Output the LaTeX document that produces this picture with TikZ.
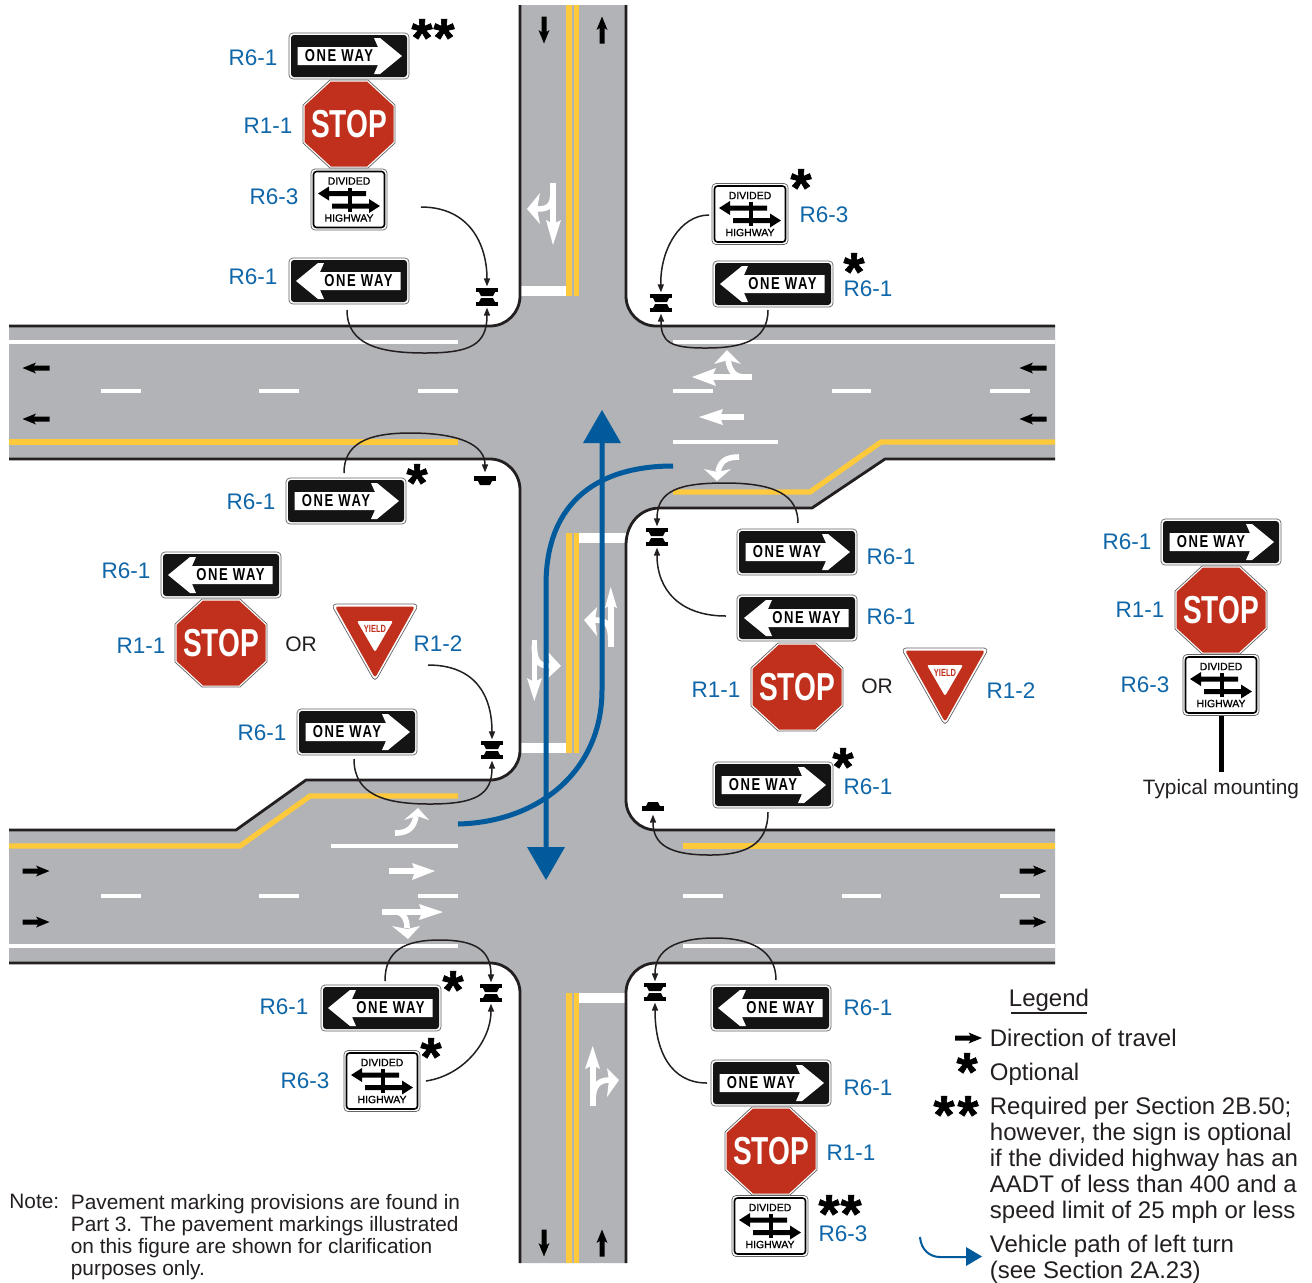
\documentclass[tikz,border=0pt]{standalone}
\usepackage{fontspec}
\setmainfont{Liberation Sans}
\newfontfamily\signfont[FakeStretch=0.76,LetterSpace=9]{Liberation Sans}
\newfontfamily\stopfont[FakeStretch=0.72]{Liberation Sans}
\newfontfamily\divfont[FakeBold=1]{Liberation Sans}
\newfontfamily\astfont[BoldFeatures={FakeBold=1.2}]{Liberation Sans}
\usetikzlibrary{arrows.meta}
\definecolor{roadgray}{HTML}{B1B3B6}
\definecolor{ylw}{HTML}{FFC93C}
\definecolor{edgeblack}{HTML}{231F20}
\definecolor{labelblue}{HTML}{0F66A8}
\definecolor{pathblue}{HTML}{005A9C}
\definecolor{signred}{HTML}{C1301C}
\newcommand\owbody[2]{%
  \draw[edgeblack!70,line width=.35pt,fill=white,rounded corners=2pt] (-60,-23) rectangle (60,23);
  \fill[black!92,rounded corners=1.5pt] (-58,-21) rectangle (58,21);
  \begin{scope}[xscale=#1]
    \fill[white] (25,-18) -- (31,-18) -- (53,0) -- (31,18) -- (25,18) -- (29,9) -- (-51.5,9) -- (-51.5,-9) -- (29,-9) -- cycle;
  \end{scope}
  \node[owtext] (-t) at (#2,0) {ONE WAY};
}
\tikzset{
  x=0.5pt,y=-0.5pt,
  owtext/.style={font=\signfont\bfseries\fontsize{8.6}{9}\selectfont,text=black,inner sep=0pt},
  stoptext/.style={font=\stopfont\bfseries\fontsize{19.5}{20}\selectfont,text=white,inner sep=0pt},
  divtext/.style={font=\divfont\fontsize{5.25}{6}\selectfont,text=black,inner sep=0pt},
  yieldtext/.style={font=\stopfont\bfseries\fontsize{5.2}{6}\selectfont,text=signred,inner sep=0pt},
  lbl/.style={font=\fontsize{11.25}{12}\selectfont,text=labelblue,inner sep=0pt,yshift=-.4pt},
  ortext/.style={font=\fontsize{10.5}{12}\selectfont,text=edgeblack,inner sep=0pt,yshift=-.4pt},
  ast/.style={font=\astfont\bfseries\fontsize{27}{27}\selectfont,text=black,inner sep=0pt,anchor=center},
  legendtext/.style={font=\fontsize{12}{13}\selectfont,text=edgeblack,inner sep=0pt,align=left,anchor=north west},
  notetext/.style={font=\fontsize{10.42}{11}\selectfont,text=edgeblack,inner sep=0pt,align=left,anchor=north west},
  edge/.style={draw=edgeblack,line width=1.4pt,line join=round},
  ylwline/.style={draw=ylw,line width=2.6pt},
  whiteline/.style={draw=white,line width=2.4pt},
  stopline/.style={draw=white,line width=5pt},
  wstem/.style={draw=white,line width=2.8pt},
  wtip/.style={fill=white},
  bluepath/.style={draw=pathblue,line width=2.5pt},
  conn/.style={draw=edgeblack,line width=.75pt,-{Triangle[length=4pt,width=3pt]},shorten >=.8pt},
  sigdbl/.style={minimum width=11pt,minimum height=9pt,inner sep=0pt,outer sep=0pt},
  sigone/.style={minimum width=11pt,minimum height=5pt,inner sep=0pt,outer sep=0pt},
  pics/owR/.style={code={\owbody{1}{-10}}},
  pics/owL/.style={code={\owbody{-1}{9.5}}},
  pics/stopsign/.style={code={
    \draw[edgeblack!70,line width=.35pt,fill=white] (-19,-44) -- (19,-44) -- (46,-19) -- (46,19) -- (19,44) -- (-19,44) -- (-46,19) -- (-46,-19) -- cycle;
    \fill[signred] (-18,-42.5) -- (18,-42.5) -- (44.5,-18) -- (44.5,18) -- (18,42.5) -- (-18,42.5) -- (-44.5,18) -- (-44.5,-18) -- cycle;
    \node[stoptext] (-t) at (0,0) {STOP};
  }},
  pics/divsign/.style={code={
    \draw[edgeblack!70,line width=.35pt,fill=white,rounded corners=2pt] (-38,-30.5) rectangle (38,30.5);
    \draw[black,line width=.8pt,rounded corners=1.5pt] (-35.5,-28) rectangle (35.5,28);
    \node[divtext] (-a) at (0,-18.5) {DIVIDED};
    \node[divtext] (-b) at (0,18.5) {HIGHWAY};
    \fill[black] (-1,-12) rectangle (3,12);
    \fill[black] (17,-8.5) -- (-20,-8.5) -- (-20,-13) -- (-31,-6) -- (-20,1) -- (-20,-3.5) -- (17,-3.5) -- cycle;
    \fill[black] (-17,4) -- (20,4) -- (20,-.5) -- (31,6.5) -- (20,13.5) -- (20,9) -- (-17,9) -- cycle;
  }},
  pics/yieldsign/.style={code={
    \draw[edgeblack!70,line width=.35pt,fill=white,rounded corners=2.5pt] (-44,-1) -- (44,-1) -- (0,77) -- cycle;
    \fill[signred,rounded corners=1.5pt] (-40,1.5) -- (40,1.5) -- (0,73) -- cycle;
    \fill[white,rounded corners=1pt] (-18,16) -- (18,16) -- (0,47) -- cycle;
    \node[yieldtext] (-t) at (0,24) {YIELD};
  }},
  pics/sigtwo/.style={code={
    \fill[black] (-11,-9) rectangle (11,-5);
    \fill[black] (-8,-5) -- (8,-5) -- (6,-1) -- (-6,-1) -- cycle;
    \fill[black] (-6,1) -- (6,1) -- (8,5) -- (-8,5) -- cycle;
    \fill[black] (-11,5) rectangle (11,9);
  }},
  pics/sigsingle/.style={code={
    \fill[black] (-11,-5) rectangle (11,0);
    \fill[black] (-7,0) -- (7,0) -- (5,4) -- (-5,4) -- cycle;
  }},
  pics/darrow/.style={code={
    \fill[black] (-13.5,-2.5) -- (2,-2.5) -- (0,-5.5) -- (13.5,0) -- (0,5.5) -- (2,2.5) -- (-13.5,2.5) -- cycle;
  }},
}
\newcommand\astmark{\raisebox{-.33em}[.35em][0pt]{*}}
\begin{document}
\begin{tikzpicture}
\useasboundingbox (0,0) rectangle (1312,1282);
\fill[white] (0,0) rectangle (1312,1282);
% road surface
\fill[roadgray] (520,5) -- (520,296) .. controls (520,312.6) and (506.6,326) .. (490,326) -- (9,326) -- (9,459) -- (490,459) .. controls (506.6,459) and (520,473) .. (520,490) -- (520,750) .. controls (520,766.6) and (506.6,780) .. (490,780) -- (306,780) -- (236,830) -- (9,830) -- (9,963) -- (490,963) .. controls (506.6,963) and (520,976.4) .. (520,993) -- (520,1263) -- (626,1263) -- (626,993) .. controls (626,976.4) and (639.4,963) .. (656,963) -- (1055,963) -- (1055,830) -- (656,830) .. controls (639.4,830) and (626,816.6) .. (626,800) -- (626,545) .. controls (626,524) and (640,508) .. (660,508) -- (812,508) -- (885,459) -- (1055,459) -- (1055,326) -- (656,326) .. controls (639.4,326) and (626,312.6) .. (626,296) -- (626,5) -- cycle;
% yellow
\foreach \xx in {569,576.5} {
  \draw[ylwline] (\xx,5) -- (\xx,296);
  \draw[ylwline] (\xx,533) -- (\xx,753);
  \draw[ylwline] (\xx,993) -- (\xx,1263);
}
\draw[ylwline] (9,442) -- (458,442);
\draw[ylwline] (673,492) -- (810,492) -- (881,442) -- (1055,442);
\draw[ylwline] (9,846) -- (240,846) -- (310,796) -- (458,796);
\draw[ylwline] (683,846) -- (1055,846);
% white lines
\draw[whiteline] (9,342) -- (458,342);
\draw[whiteline] (673,342) -- (1055,342);
\draw[whiteline] (9,946) -- (458,946);
\draw[whiteline] (683,946) -- (1055,946);
\draw[whiteline] (673,442) -- (778,442);
\draw[whiteline] (331,846) -- (458,846);
\foreach \xa/\xb in {101/141,259/299,418/458,673/713,832/871,990/1030} {\draw[whiteline] (\xa,391) -- (\xb,391);}
\foreach \xa/\xb in {101/141,259/299,418/458,683/723,842/881,1000/1040} {\draw[whiteline] (\xa,896) -- (\xb,896);}
\draw[stopline] (520,291) -- (566,291);
\draw[stopline] (579,538) -- (626,538);
\draw[stopline] (520,748) -- (566,748);
\draw[stopline] (579,998) -- (626,998);
% pavement arrows
\draw[wstem] (553,183) -- (553,224); \fill[wtip] (553,245) -- (546,220) -- (553,224) -- (561,220) -- cycle;
\draw[wstem] (553,190) .. controls (553,205) and (550,209) .. (537,209); \fill[wtip] (527,209) -- (540,193) -- (537,209) -- (540,224) -- cycle;
\draw[wstem] (752,377) -- (712,377); \fill[wtip] (692,377) -- (716,368) -- (712,377) -- (716,386) -- cycle;
\draw[wstem] (745,377) .. controls (735,377) and (730,372) .. (728,360); \fill[wtip] (727,350) -- (714,364) -- (728,360) -- (741,364) -- cycle;
\draw[wstem] (744,417) -- (720,417); \fill[wtip] (699,417) -- (723,409) -- (720,417) -- (723,425) -- cycle;
\draw[wstem] (739,457) .. controls (725,457) and (720,462) .. (718,472); \fill[wtip] (717,481) -- (704,469) -- (717,472) -- (731,469) -- cycle;
\draw[wstem] (395,833) .. controls (410,833) and (414,826) .. (416,816); \fill[wtip] (418,808) -- (404,820) -- (417,816) -- (429,820) -- cycle;
\draw[wstem] (389,871) -- (415,871); \fill[wtip] (435,871) -- (412,863) -- (415,871) -- (412,880) -- cycle;
\draw[wstem] (382,912) -- (422,912); \fill[wtip] (443,912) -- (419,904) -- (422,912) -- (419,920) -- cycle;
\draw[wstem] (398,912) .. controls (405,915) and (407,920) .. (407,928); \fill[wtip] (408,939) -- (392,926) -- (407,929) -- (420,926) -- cycle;
\draw[wstem] (592.7,1106) -- (592.7,1065); \fill[wtip] (592.7,1046) -- (585,1069) -- (592.7,1065) -- (600,1069) -- cycle;
\draw[wstem] (593,1100) .. controls (593,1088) and (597,1080) .. (609,1080); \fill[wtip] (619,1080) -- (607,1068) -- (609,1080) -- (607,1097) -- cycle;
\draw[wstem] (534.3,640) -- (534.3,682); \fill[wtip] (534.3,701) -- (527,678) -- (534.3,682) -- (542,678) -- cycle;
\draw[wstem] (534.3,645) .. controls (534.3,660) and (538,666) .. (550,666); \fill[wtip] (561,666) -- (548,652) -- (550,666) -- (548,678) -- cycle;
\draw[wstem] (610.7,647) -- (610.7,605); \fill[wtip] (610.7,587) -- (605,608) -- (610.7,605) -- (617,608) -- cycle;
\draw[wstem] (610.7,640) .. controls (610.7,625) and (607,620) .. (595,620); \fill[wtip] (584,620) -- (597,607) -- (595,620) -- (597,636) -- cycle;
% edges
\draw[edge] (520,5) -- (520,296) .. controls (520,312.6) and (506.6,326) .. (490,326) -- (9,326);
\draw[edge] (9,459) -- (490,459) .. controls (506.6,459) and (520,473) .. (520,490) -- (520,750) .. controls (520,766.6) and (506.6,780) .. (490,780) -- (306,780) -- (236,830) -- (9,830);
\draw[edge] (9,963) -- (490,963) .. controls (506.6,963) and (520,976.4) .. (520,993) -- (520,1263);
\draw[edge] (626,1263) -- (626,993) .. controls (626,976.4) and (639.4,963) .. (656,963) -- (1055,963);
\draw[edge] (1055,830) -- (656,830) .. controls (639.4,830) and (626,816.6) .. (626,800) -- (626,545) .. controls (626,524) and (640,508) .. (660,508) -- (812,508) -- (885,459) -- (1055,459);
\draw[edge] (1055,326) -- (656,326) .. controls (639.4,326) and (626,312.6) .. (626,296) -- (626,5);
% road direction arrows
\pic[rotate=-90] at (544,30) {darrow};
\pic[rotate=90] at (602,30) {darrow};
\pic[rotate=-90] at (544,1243) {darrow};
\pic[rotate=90] at (602,1243) {darrow};
\pic[rotate=180] at (36,368) {darrow};
\pic[rotate=180] at (36,419) {darrow};
\pic[rotate=180] at (1033,368) {darrow};
\pic[rotate=180] at (1033,419) {darrow};
\pic at (36,871) {darrow};
\pic at (36,922) {darrow};
\pic at (1033,871) {darrow};
\pic at (1033,922) {darrow};
% blue vehicle paths
\draw[bluepath] (458,824) .. controls (540,822) and (602,770) .. (602,690) -- (602,440);
\fill[pathblue] (602,410) -- (583,443) -- (621,443) -- cycle;
\draw[bluepath] (673,466) .. controls (600,466) and (546,500) .. (546,585) -- (546,850);
\fill[pathblue] (546,880) -- (527,847) -- (565,847) -- cycle;
% signals
\node[sigdbl] (sA) at (487,297) {}; \pic at (sA) {sigtwo};
\node[sigdbl] (sB) at (661,303) {}; \pic at (sB) {sigtwo};
\node[sigdbl] (sC) at (657,537) {}; \pic at (sC) {sigtwo};
\node[sigdbl] (sD) at (492,750) {}; \pic at (sD) {sigtwo};
\node[sigdbl] (sE) at (491,993) {}; \pic at (sE) {sigtwo};
\node[sigdbl] (sF) at (655,992) {}; \pic at (sF) {sigtwo};
\node[sigone] (sG) at (485,479) {}; \pic at (485,481) {sigsingle};
\node[sigone] (sH) at (653,808) {}; \pic[yscale=-1] at (653,806) {sigsingle};
% signs: top left
\pic (a1) at (349,56) {owR};
\pic (a2) at (349,124) {stopsign};
\pic (a3) at (349,199.5) {divsign};
\pic (a4) at (349,281) {owL};
% top right
\pic (b1) at (750,214) {divsign};
\pic (b2) at (773,284) {owL};
% mid left
\pic (c1) at (346,501) {owR};
\pic (c2) at (221,575) {owL};
\pic (c3) at (221,643) {stopsign};
\pic (c4) at (375,605) {yieldsign};
\pic (c5) at (357,732) {owR};
% mid right
\pic (d1) at (797,552) {owR};
\pic (d2) at (797,618) {owL};
\pic (d3) at (797,687) {stopsign};
\pic (d4) at (945,649) {yieldsign};
\pic (d5) at (773,785) {owR};
% typical mounting
\draw[black,line width=2.5pt] (1221,714) -- (1221,772);
\pic (e1) at (1221,542) {owR};
\pic (e2) at (1221,610) {stopsign};
\pic (e3) at (1221,685) {divsign};
% bottom left
\pic (f1) at (381,1008) {owL};
\pic (f2) at (382,1081) {divsign};
% bottom right
\pic (g1) at (771,1008) {owL};
\pic (g2) at (771,1083) {owR};
\pic (g3) at (771,1151) {stopsign};
\pic (g4) at (770,1226) {divsign};
% free ends of connectors
\coordinate (p1) at (421,207);
\coordinate (p2) at (347,310);
\coordinate (p3) at (709,215);
\coordinate (p4) at (768,310);
\coordinate (p5) at (798,523);
\coordinate (p6) at (726,616);
\coordinate (p7) at (768,812);
\coordinate (p8) at (344,473);
\coordinate (p9) at (428,665);
\coordinate (p10) at (354,759);
\coordinate (p11) at (385,981);
\coordinate (p12) at (426,1081);
\coordinate (p13) at (776,980);
\coordinate (p14) at (707,1083);
% connectors
\draw[conn] (p1) .. controls (470,207) and (487,245) .. (sA.north);
\draw[conn] (p2) .. controls (347,345) and (380,353) .. (425,353) .. controls (470,353) and (487,345) .. (sA.south);
\draw[conn] (p3) .. controls (680,215) and (660,250) .. (sB.north);
\draw[conn] (p4) .. controls (768,342) and (740,348) .. (705,348) .. controls (670,348) and (661,342) .. (sB.south);
\draw[conn] (p5) .. controls (798,495) and (775,483) .. (725,483) .. controls (680,483) and (657,490) .. (sC.north);
\draw[conn] (p6) .. controls (680,616) and (657,590) .. (sC.south);
\draw[conn] (p7) .. controls (768,845) and (745,855) .. (710,855) .. controls (670,855) and (653,845) .. (sH.south);
\draw[conn] (p8) .. controls (344,445) and (365,433) .. (410,433) .. controls (460,433) and (485,445) .. (sG.north);
\draw[conn] (p9) .. controls (475,665) and (492,695) .. (sD.north);
\draw[conn] (p10) .. controls (354,795) and (385,804) .. (430,804) .. controls (475,804) and (492,795) .. (sD.south);
\draw[conn] (p11) .. controls (385,950) and (405,940) .. (440,940) .. controls (475,940) and (491,950) .. (sE.north);
\draw[conn] (p12) .. controls (465,1075) and (491,1040) .. (sE.south);
\draw[conn] (p13) .. controls (776,950) and (750,938) .. (715,938) .. controls (675,938) and (655,950) .. (sF.north);
\draw[conn] (p14) .. controls (670,1083) and (655,1050) .. (sF.south);
% sign labels
\node[lbl] (l1) at (253,57) {R6-1};
\node[lbl] (l2) at (268,125) {R1-1};
\node[lbl] (l3) at (274,196) {R6-3};
\node[lbl] (l4) at (253,276) {R6-1};
\node[lbl] (l5) at (824,214) {R6-3};
\node[lbl] (l6) at (868,288) {R6-1};
\node[lbl] (l7) at (251,501) {R6-1};
\node[lbl] (l8) at (126,570) {R6-1};
\node[lbl] (l9) at (141,645) {R1-1};
\node[ortext] (o1) at (301,643) {OR};
\node[lbl] (l10) at (438,643) {R1-2};
\node[lbl] (l11) at (262,732) {R6-1};
\node[lbl] (l12) at (891,556) {R6-1};
\node[lbl] (l13) at (891,616) {R6-1};
\node[lbl] (l14) at (716,689) {R1-1};
\node[ortext] (o2) at (877,685) {OR};
\node[lbl] (l15) at (1011,690) {R1-2};
\node[lbl] (l16) at (868,786) {R6-1};
\node[lbl] (l17) at (1127,541) {R6-1};
\node[lbl] (l18) at (1140,609) {R1-1};
\node[lbl] (l19) at (1145,684) {R6-3};
\node[lbl] (l20) at (284,1006) {R6-1};
\node[lbl] (l21) at (305,1080) {R6-3};
\node[lbl] (l22) at (868,1007) {R6-1};
\node[lbl] (l23) at (868,1087) {R6-1};
\node[lbl] (l24) at (851,1152) {R1-1};
\node[lbl] (l25) at (843,1233) {R6-3};
\node[ortext,font=\fontsize{10.4}{11}\selectfont] (tm) at (1221,788) {Typical mounting};
% optional marks
\foreach \nm/\ax/\ay in {s1/422/29,s2/444/29,s3/801/179,s4/854/263,s5/417/474,s6/843/758,s7/453/981,s8/431/1048,s9/829/1205,s10/851/1205,s11/967/1063,s12/944/1106,s13/968/1106} {
  \node[ast] (\nm) at (\ax,\ay) {\astmark};
}
% note
\node[notetext] (n1) at (9,1194) {Note:};
\node[notetext] (n2) at (70.5,1194) {Pavement marking provisions are found in\\Part 3. The pavement markings illustrated\\on this figure are shown for clarification\\purposes only.};
% legend
\node[legendtext] (lg) at (1008.5,989) {Legend};
\draw[edgeblack,line width=.6pt] (1011,1013) -- (1087,1013);
\pic at (968.5,1038) {darrow};
\node[legendtext] (lg1) at (989.5,1029) {Direction of travel};
\node[legendtext] (lg2) at (989.5,1063) {Optional};
\node[legendtext] (lg3) at (989.5,1097) {Required per Section 2B.50;\\however, the sign is optional\\if the divided highway has an\\AADT of less than 400 and a\\speed limit of 25 mph or less};
\node[legendtext] (lg4) at (989.5,1235) {Vehicle path of left turn\\(see Section 2A.23)};
\coordinate (v1) at (920,1237);
\coordinate (v2) at (968,1257);
\draw[pathblue,line width=1pt] (v1) .. controls (921,1250) and (930,1257) .. (940,1257) -- (v2);
\fill[pathblue] (982,1256.5) -- (966,1247) -- (966,1266) -- cycle;
\end{tikzpicture}
\end{document}
